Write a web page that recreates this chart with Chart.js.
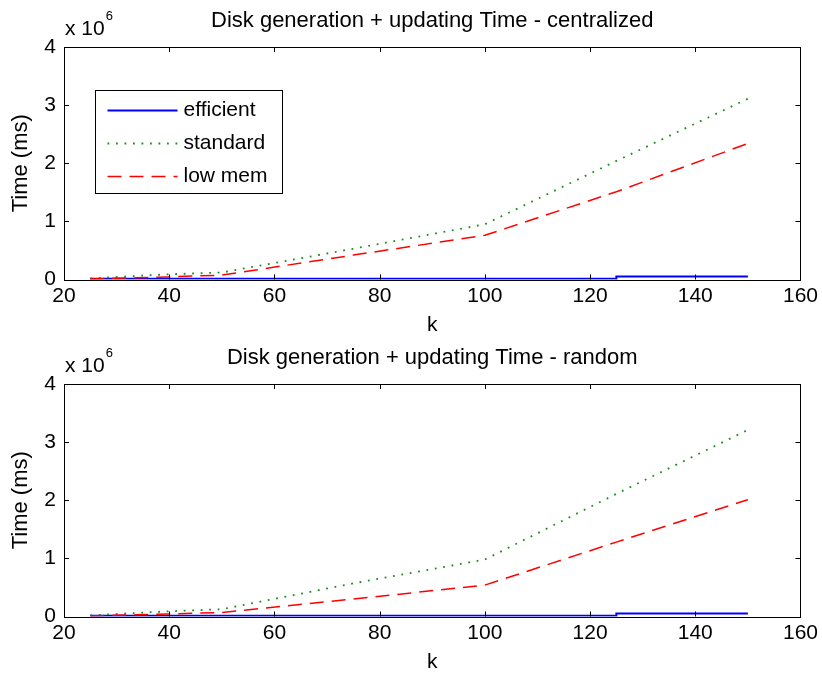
<!DOCTYPE html>
<html>
<head>
<meta charset="utf-8">
<title>Disk generation + updating Time</title>
<script src="https://cdn.jsdelivr.net/npm/chart.js@4.4.1/dist/chart.umd.min.js"></script>
<style>
  body { margin: 0; background: #fff; }
  #wrap { position: relative; width: 822px; height: 673px; }
  canvas { position: absolute; left: 0; }
</style>
</head>
<body>
<div id="wrap">
  <canvas id="centralChart" width="822" height="336" style="top:0"></canvas>
  <canvas id="randomChart" width="822" height="336" style="top:337px"></canvas>
</div>
<script>
// values, in units of 10^6 ms
const SCALE = 1e6;
const kValues = [25, 40, 50, 75, 100, 125, 150];
const kEfficient = [25, 125, 125, 150];

const standardCentral = [0.02, 0.09, 0.12, 0.53, 0.95, 2.04, 3.11];
const lowMemCentral = [0.01, 0.045, 0.075, 0.42, 0.76, 1.51, 2.34];
const efficientCentral = [0.015, 0.015, 0.05, 0.05];

const standardRandom = [0.02, 0.09, 0.125, 0.57, 0.98, 2.11, 3.21];
const lowMemRandom = [0.01, 0.045, 0.07, 0.30, 0.54, 1.28, 2.01];
const efficientRandom = [0.012, 0.012, 0.05, 0.05];

const xTicks = [20, 40, 60, 80, 100, 120, 140, 160];
const yTicks = [0, 1, 2, 3, 4];

const FONT = "'Liberation Sans', Arial, sans-serif";
Chart.defaults.font.family = FONT;
Chart.defaults.font.size = 21;
Chart.defaults.color = '#000';

function toPoints(xs, ys) {
  return xs.map((x, i) => ({ x: x, y: ys[i] * SCALE }));
}

// caja estilo matlab con ticks hacia adentro
const matlabAxes = {
  id: 'matlabAxes',
  afterDatasetsDraw(chart) {
    const ctx = chart.ctx;
    const a = chart.chartArea;
    const xs = chart.scales.x, ys = chart.scales.y;
    const len = 5;
    ctx.save();
    ctx.strokeStyle = '#000';
    ctx.lineWidth = 1;
    ctx.beginPath();
    xTicks.forEach(v => {
      const px = Math.round(xs.getPixelForValue(v)) + 0.5;
      ctx.moveTo(px, a.bottom); ctx.lineTo(px, a.bottom - len);
      ctx.moveTo(px, a.top); ctx.lineTo(px, a.top + len);
    });
    yTicks.forEach(v => {
      const py = Math.round(ys.getPixelForValue(v * SCALE)) + 0.5;
      ctx.moveTo(a.left, py); ctx.lineTo(a.left + len, py);
      ctx.moveTo(a.right, py); ctx.lineTo(a.right - len, py);
    });
    ctx.stroke();
    ctx.strokeRect(Math.round(a.left) + 0.5, Math.round(a.top) + 0.5,
      Math.round(a.right - a.left), Math.round(a.bottom - a.top));
    ctx.restore();
  },
  afterDraw(chart, args, opts) {
    const ctx = chart.ctx;
    const a = chart.chartArea;
    ctx.save();
    ctx.fillStyle = '#000';
    ctx.textBaseline = 'alphabetic';
    ctx.textAlign = 'left';
    ctx.font = '21px ' + FONT;
    ctx.fillText('x 10', a.left + 1, a.top - 12);
    const w = ctx.measureText('x 10').width;
    ctx.font = '13px ' + FONT;
    ctx.fillText('6', a.left + 2 + w, a.top - 27);

    if (opts.legend) {
      const bx = Math.round(a.left) + 31.5, by = Math.round(a.top) + 43.5;
      const bw = 187, bh = 103;
      ctx.fillStyle = '#fff';
      ctx.fillRect(bx, by, bw, bh);
      ctx.strokeStyle = '#000';
      ctx.lineWidth = 1;
      ctx.strokeRect(bx, by, bw, bh);
      [0, 1, 2].forEach((idx, row) => {
        const ds = chart.data.datasets[idx];
        const y = by + 20 + row * 33;
        ctx.save();
        ctx.strokeStyle = ds.borderColor;
        ctx.lineWidth = ds.borderWidth;
        ctx.setLineDash(ds.borderDash || []);
        ctx.beginPath();
        ctx.moveTo(bx + 12, y);
        ctx.lineTo(bx + 82, y);
        ctx.stroke();
        ctx.restore();
        ctx.fillStyle = '#000';
        ctx.font = '21px ' + FONT;
        ctx.textBaseline = 'middle';
        ctx.fillText(ds.label, bx + 88, y);
      });
    }
    ctx.restore();
  }
};

function makeChart(canvasId, titleText, eff, std, low, showLegend) {
  const ctx = document.getElementById(canvasId).getContext('2d');
  return new Chart(ctx, {
    type: 'line',
    data: {
      datasets: [
        {
          label: 'efficient',
          data: toPoints(kEfficient, eff),
          borderColor: '#0000ff',
          borderWidth: 2,
          pointRadius: 0,
          tension: 0,
          order: 3
        },
        {
          label: 'standard',
          data: toPoints(kValues, std),
          borderColor: 'rgb(30, 140, 30)',
          borderWidth: 1.8,
          borderDash: [1.8, 6.7],
          pointRadius: 0,
          tension: 0,
          order: 2
        },
        {
          label: 'low mem',
          data: toPoints(kValues, low),
          borderColor: '#ff0000',
          borderWidth: 1.5,
          borderDash: [14, 8],
          pointRadius: 0,
          tension: 0,
          order: 1
        }
      ]
    },
    options: {
      responsive: false,
      animation: false,
      devicePixelRatio: 1,
      layout: { padding: { left: 0, right: 20, top: 0, bottom: 0 } },
      plugins: {
        legend: { display: false },
        tooltip: { enabled: false },
        title: {
          display: true,
          text: titleText,
          fullSize: false,
          color: '#000',
          font: { size: 22, weight: 'normal', lineHeight: 1.2 },
          padding: { top: 8, bottom: 12.6 }
        },
        matlabAxes: { legend: showLegend }
      },
      scales: {
        x: {
          type: 'linear',
          min: 20,
          max: 160,
          afterBuildTicks: scale => { scale.ticks = xTicks.map(v => ({ value: v })); },
          afterFit: scale => { scale.height = 56.5; },
          grid: { display: false, drawTicks: false },
          border: { display: false },
          ticks: { padding: 4, color: '#000', font: { size: 21 } },
          title: { display: true, text: 'k', color: '#000', font: { size: 21, lineHeight: 1.2 }, padding: { top: 0, bottom: -2 } }
        },
        y: {
          type: 'linear',
          min: 0,
          max: 4 * SCALE,
          afterBuildTicks: scale => { scale.ticks = yTicks.map(v => ({ value: v * SCALE })); },
          afterFit: scale => { scale.width = 64; },
          grid: { display: false, drawTicks: false },
          border: { display: false },
          ticks: { padding: 8, color: '#000', font: { size: 21 }, callback: value => value / SCALE },
          title: { display: true, text: 'Time (ms)', color: '#000', font: { size: 22, lineHeight: 1.2 }, padding: { top: 8, bottom: 0 } }
        }
      }
    },
    plugins: [matlabAxes]
  });
}

makeChart('centralChart', 'Disk generation + updating Time - centralized',
  efficientCentral, standardCentral, lowMemCentral, true);
makeChart('randomChart', 'Disk generation + updating Time - random',
  efficientRandom, standardRandom, lowMemRandom, false);
</script>
</body>
</html>
